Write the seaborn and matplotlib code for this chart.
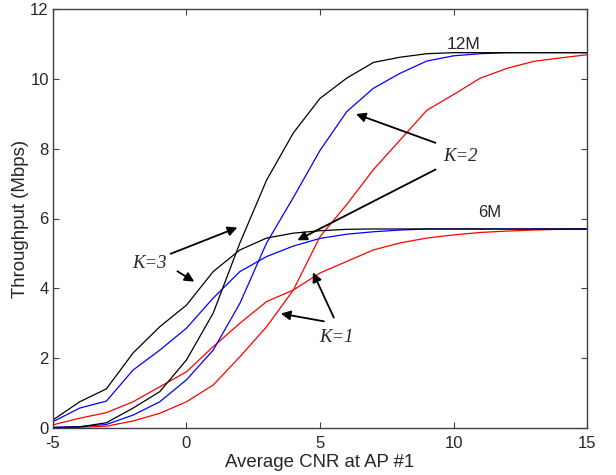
import numpy as np
import pandas as pd
import seaborn as sns
from matplotlib import pyplot as plt

# average CNR at AP #1 (dB)
cnr = list(range(-5, 16))

# throughput (Mbps), 6M curves
thr_6m_k1 = [0.09, 0.28, 0.44, 0.75, 1.18, 1.61, 2.33, 3.00, 3.62, 3.95, 4.44,
             4.77, 5.10, 5.30, 5.44, 5.53, 5.60, 5.64, 5.67, 5.69, 5.70]
thr_6m_k2 = [0.18, 0.57, 0.77, 1.66, 2.23, 2.86, 3.72, 4.48, 4.91, 5.21, 5.43,
             5.55, 5.62, 5.67, 5.70, 5.70, 5.70, 5.70, 5.70, 5.70, 5.70]
thr_6m_k3 = [0.23, 0.75, 1.12, 2.15, 2.90, 3.52, 4.48, 5.10, 5.44, 5.58, 5.65,
             5.69, 5.70, 5.70, 5.70, 5.70, 5.70, 5.70, 5.70, 5.70, 5.70]

# throughput (Mbps), 12M curves
thr_12m_k1 = [0.00, 0.02, 0.05, 0.20, 0.42, 0.75, 1.23, 2.04, 2.90, 3.95, 5.48,
              6.40, 7.40, 8.25, 9.10, 9.55, 10.02, 10.30, 10.50, 10.60, 10.69]
thr_12m_k2 = [0.02, 0.04, 0.10, 0.37, 0.75, 1.38, 2.23, 3.57, 5.30, 6.60, 7.95,
              9.06, 9.73, 10.16, 10.51, 10.66, 10.72, 10.75, 10.75, 10.75, 10.75]
thr_12m_k3 = [0.01, 0.03, 0.15, 0.57, 1.04, 1.95, 3.29, 5.30, 7.10, 8.45, 9.44,
              10.02, 10.47, 10.62, 10.72, 10.75, 10.75, 10.75, 10.75, 10.75, 10.75]

series = {
    ('6M', 1): thr_6m_k1, ('6M', 2): thr_6m_k2, ('6M', 3): thr_6m_k3,
    ('12M', 1): thr_12m_k1, ('12M', 2): thr_12m_k2, ('12M', 3): thr_12m_k3,
}
rows = []
for (rate, k), vals in series.items():
    for x, y in zip(cnr, vals):
        rows.append({'cnr': x, 'thr': y, 'K': k, 'rate': rate})
df = pd.DataFrame(rows)

sns.set_style('ticks')
plt.rcParams['font.family'] = ['Liberation Sans', 'DejaVu Sans']
plt.rcParams['axes.unicode_minus'] = False

fig = plt.figure(figsize=(6.16, 4.75), dpi=100)
ax = fig.add_axes([0.086, 0.099, 0.867, 0.882])

sns.lineplot(data=df, x='cnr', y='thr', hue='K', units='rate', estimator=None,
             palette={1: 'red', 2: 'blue', 3: 'black'}, linewidth=0.9,
             legend=False, ax=ax)

ax.set_xlim(-5, 15)
ax.set_ylim(0, 12)
ax.set_xticks([-5, 0, 5, 10, 15])
ax.set_yticks(range(0, 13, 2))
ax.tick_params(direction='in', top=True, right=True, length=4,
               color='#404040')
ax.tick_params(axis='x', labelsize=12, pad=5.5)
ax.tick_params(axis='y', labelsize=12, pad=3)
for sp in ax.spines.values():
    sp.set_visible(True)
    sp.set_color('#404040')
    sp.set_linewidth(1.0)
ax.set_xlabel('Average CNR at AP #1', fontsize=13.4, labelpad=2.5)
ax.set_ylabel('Throughput (Mbps)', fontsize=13.4, labelpad=0.5)

ax.text(10.36, 10.97, '12M', fontsize=12.5, ha='center', va='center')
ax.text(11.37, 6.16, '6M', fontsize=12, ha='center', va='center')

kfont = dict(fontsize=13.5, style='italic', family=['Liberation Serif', 'DejaVu Serif'])
ax.text(10.25, 7.79, 'K=2', ha='center', va='center', **kfont)
ax.text(-1.4, 4.72, 'K=3', ha='center', va='center', **kfont)
ax.text(5.6, 2.6, 'K=1', ha='center', va='center', **kfont)

arrow = dict(arrowstyle='-|>', color='black', lw=1.3, mutation_scale=14)
ax.annotate('', xy=(6.25, 9.02), xytext=(9.42, 8.14), arrowprops=arrow)
ax.annotate('', xy=(4.06, 5.34), xytext=(9.42, 7.44), arrowprops=arrow)
ax.annotate('', xy=(2.0, 5.77), xytext=(-0.69, 4.96), arrowprops=arrow)
ax.annotate('', xy=(0.38, 4.15), xytext=(-0.43, 4.53), arrowprops=arrow)
ax.annotate('', xy=(4.69, 4.53), xytext=(5.56, 3.09), arrowprops=arrow)
ax.annotate('', xy=(3.43, 3.29), xytext=(5.25, 3.04), arrowprops=arrow)

fig.savefig('out.png', dpi=100)
